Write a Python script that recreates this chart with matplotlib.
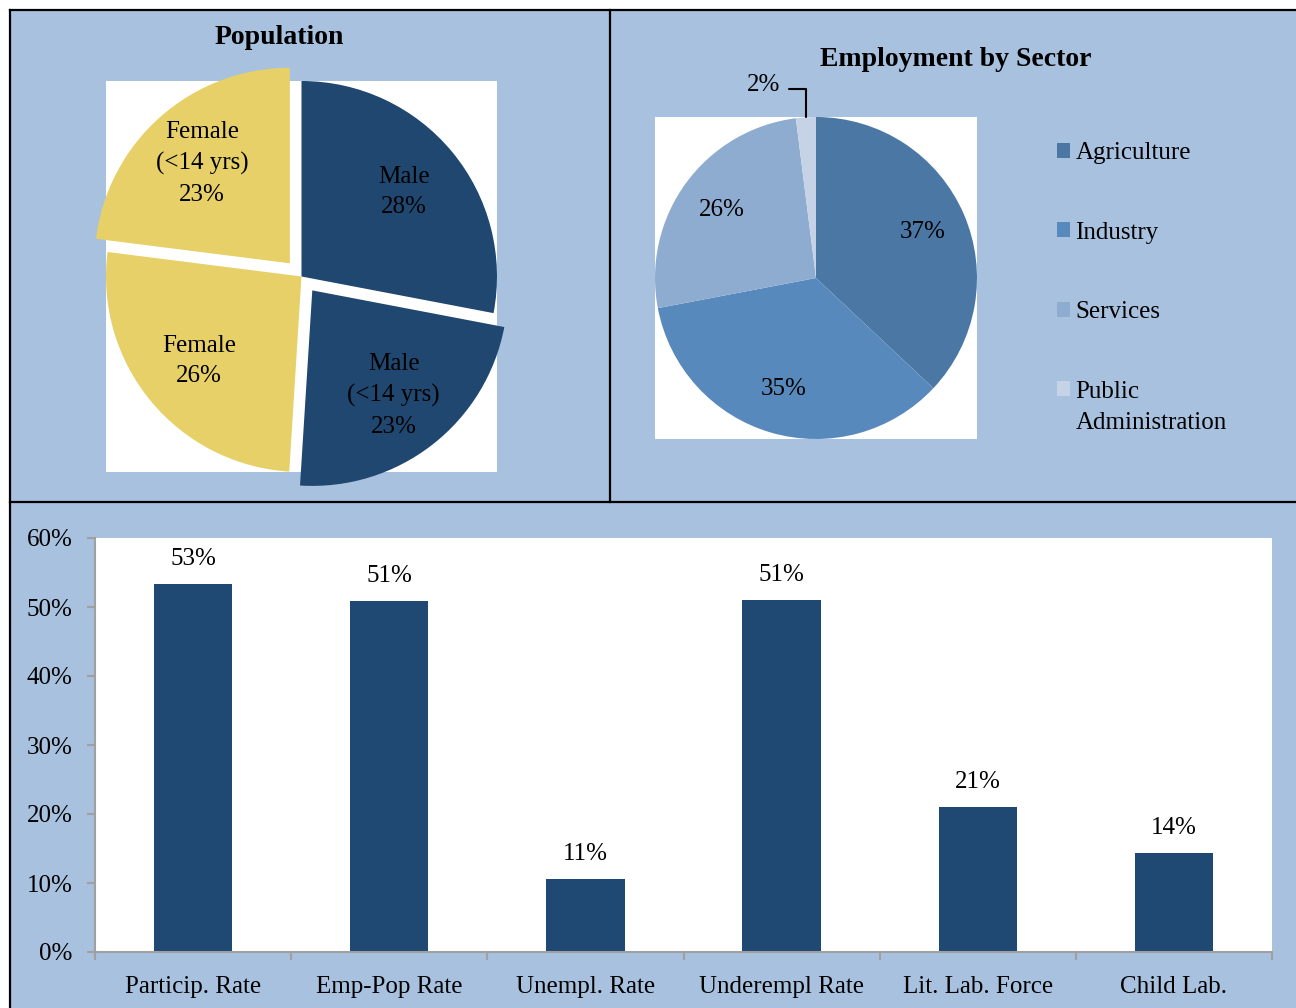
import matplotlib.pyplot as plt
import numpy as np
from matplotlib.lines import Line2D
from matplotlib.patches import Rectangle
from matplotlib.ticker import PercentFormatter

plt.rcParams['font.family'] = ['Liberation Serif', 'DejaVu Serif']

# population pie
pop_labels = ['Male', 'Male\n(<14 yrs)', 'Female', 'Female\n(<14 yrs)']
pop_values = [28, 23, 26, 23]
pop_explode = [0, 0.09, 0, 0.09]
pop_colors = ['#1f4770', '#1f4770', '#e6d067', '#e6d067']

# employment by sector pie
sector_names = ['Agriculture', 'Industry', 'Services', 'Public\nAdministration']
sector_values = [37, 35, 26, 2]
sector_colors = ['#4a77a4', '#5889bd', '#8eabd0', '#c6d3e7']

# labour indicators bars
categories = ['Particip. Rate', 'Emp-Pop Rate', 'Unempl. Rate',
              'Underempl Rate', 'Lit. Lab. Force', 'Child Lab.']
rates = [53.4, 50.9, 10.6, 51.0, 21.0, 14.3]

W, H = 1296, 1008
BG = '#a7c1df'
NAVY = '#1f4872'


def box(x0, y0, x1, y1):
    '''pixel box (top-left origin) -> figure fraction rect'''
    return [x0 / W, 1 - y1 / H, (x1 - x0) / W, (y1 - y0) / H]


fig = plt.figure(figsize=(W / 100, H / 100), dpi=100, facecolor='white')
fig.add_artist(Rectangle((10 / W, 0), 1, 1 - 10 / H, transform=fig.transFigure,
                         facecolor=BG, edgecolor='none', zorder=-10))
# panel borders
for xs, ys in [((10, W), (10, 10)), ((10, 10), (10, H)),
               ((610, 610), (10, 502)), ((10, W), (502, 502))]:
    fig.add_artist(Line2D([x / W for x in xs], [1 - y / H for y in ys],
                          transform=fig.transFigure, color='black', lw=1.6))

# ---- Population ----
ax1 = fig.add_axes(box(106, 81, 497, 472))
wedges, texts = ax1.pie(pop_values, labels=pop_labels, colors=pop_colors,
                        explode=pop_explode, startangle=90, counterclock=False,
                        labeldistance=0.68, radius=1,
                        textprops=dict(fontsize=18, ha='center', va='center'))
ax1.set_frame_on(True)
for s in ax1.spines.values():
    s.set_visible(False)
ax1.set_facecolor('white')
ax1.set_xlim(-1, 1)
ax1.set_ylim(-1, 1)
for t, v in zip(texts, pop_values):
    t.set_text(t.get_text() + '\n%d%%' % v)
    t.set_linespacing(1.5)
fig.text(279 / W, 1 - 38 / H, 'Population', fontsize=20, fontweight='bold',
         ha='center', va='center')

# ---- Employment by Sector ----
ax2 = fig.add_axes(box(655, 117, 977, 439))
wedges2, _, pcts = ax2.pie(sector_values, colors=sector_colors, startangle=90,
                           counterclock=False, pctdistance=0.72,
                           autopct=lambda p: '%.0f%%' % p if p > 5 else '',
                           textprops=dict(fontsize=18),
                           wedgeprops=dict(edgecolor='none'))
ax2.set_frame_on(True)
for s in ax2.spines.values():
    s.set_visible(False)
ax2.set_facecolor('white')
ax2.set_xlim(-1, 1)
ax2.set_ylim(-1, 1)
# small slice label with leader line
w = wedges2[-1]
mid = np.deg2rad((w.theta1 + w.theta2) / 2)
ax2.annotate('%d%%' % sector_values[-1], xy=(0.95 * np.cos(mid), np.sin(mid)),
             xytext=(-0.22, 1.13), ha='right', va='bottom', fontsize=18,
             annotation_clip=False,
             arrowprops=dict(arrowstyle='-', color='black', lw=1.5,
                             connectionstyle='angle,angleA=0,angleB=90,rad=0',
                             relpos=(1, 0.3), shrinkA=4, shrinkB=0))
fig.text(956 / W, 1 - 59 / H, 'Employment by Sector', fontsize=20,
         fontweight='bold', ha='center', va='center')
leg = fig.legend(wedges2, sector_names, loc='upper left',
                 bbox_to_anchor=(1034 / W, 1 - 120 / H), frameon=False,
                 fontsize=18, handlelength=0.55, handleheight=0.55,
                 handletextpad=0.2, labelspacing=2.3)
for t in leg.get_texts():
    t.set_linespacing(1.55)
# put the colour square beside the first line of each label
for col in leg._legend_handle_box.get_children():
    for item in col.get_children():
        item.align = 'top'

# ---- Bars ----
ax3 = fig.add_axes(box(95, 538, 1272, 952))
x = np.arange(len(categories))
bars = ax3.bar(x, rates, width=0.4, color=NAVY)
ax3.bar_label(bars, labels=['%.0f%%' % v for v in rates], padding=10,
              fontsize=18)
ax3.set_xlim(-0.5, len(categories) - 0.5)
ax3.set_ylim(0, 60)
ax3.set_yticks(np.arange(0, 61, 10))
ax3.yaxis.set_major_formatter(PercentFormatter(decimals=0))
ax3.set_xticks(x)
ax3.set_xticklabels(categories)
ax3.set_xticks(np.arange(-0.5, len(categories), 1), minor=True)
ax3.tick_params(axis='x', which='major', length=0, pad=17, labelsize=18)
ax3.tick_params(axis='x', which='minor', length=6, color='#a0a0a0', width=1.5)
ax3.tick_params(axis='y', length=6, color='#a0a0a0', width=1.5, pad=10,
                labelsize=18)
for side in ['top', 'right']:
    ax3.spines[side].set_visible(False)
for side in ['left', 'bottom']:
    ax3.spines[side].set_color('#a0a0a0')
    ax3.spines[side].set_linewidth(1.5)

plt.savefig('out.png', dpi=100, facecolor=fig.get_facecolor())
